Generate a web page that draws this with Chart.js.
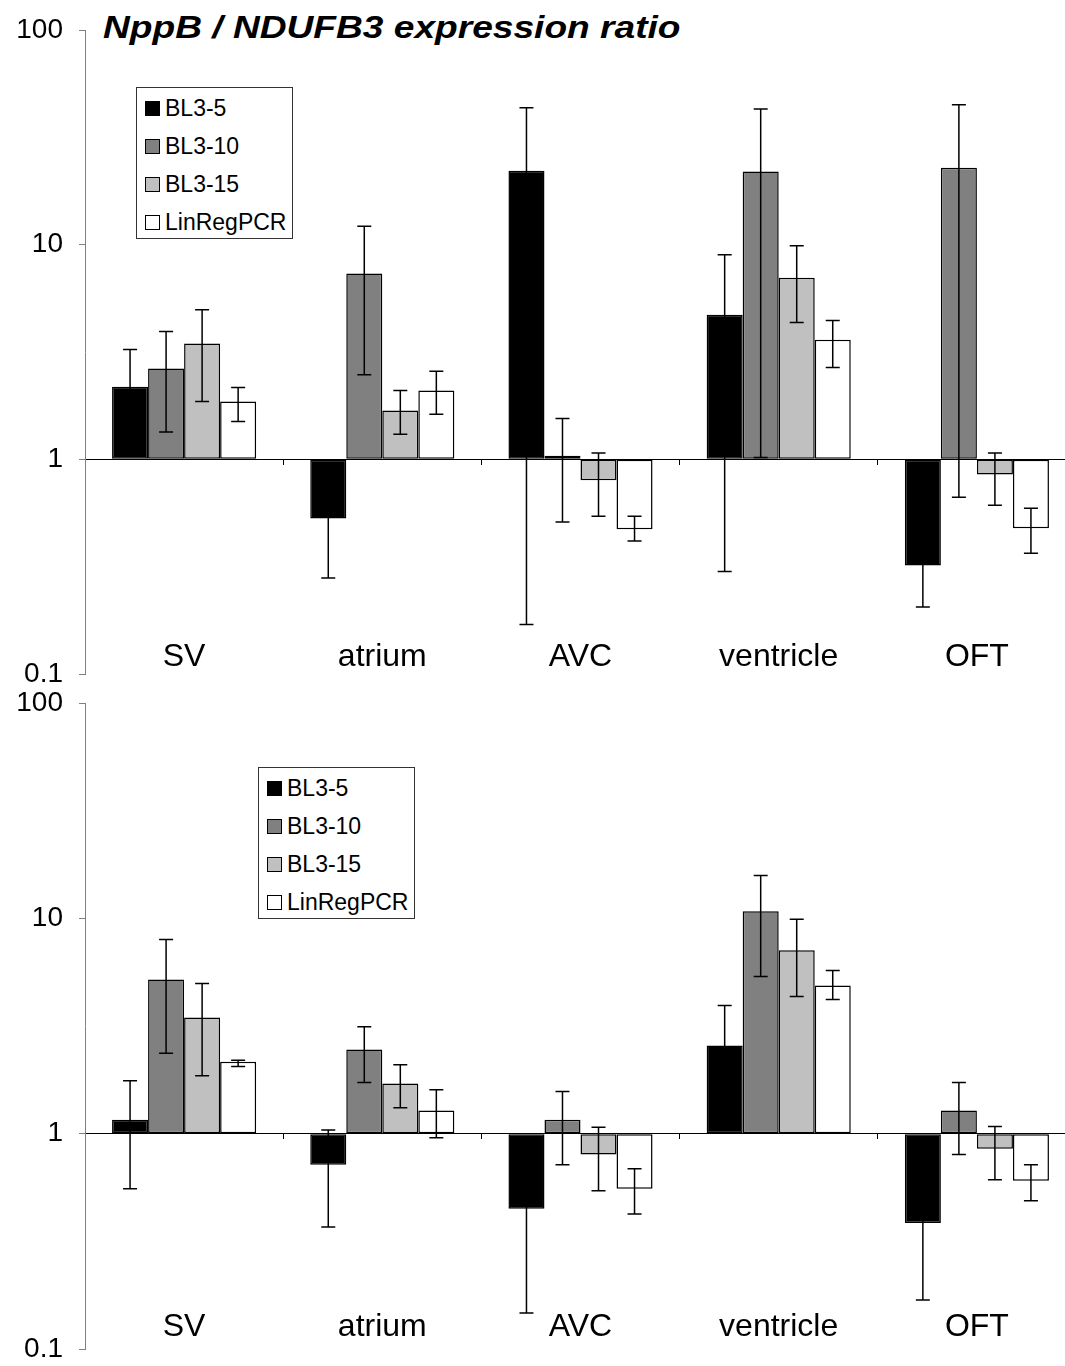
<!DOCTYPE html>
<html>
<head>
<meta charset="utf-8">
<script src="https://cdn.jsdelivr.net/npm/chart.js@4/dist/chart.umd.min.js"></script>
<style>
  body { margin: 0; width: 1065px; height: 1366px; overflow: hidden; background: #fff; position: relative;
         font-family: "Liberation Sans", Arial, sans-serif; }
  canvas { position: absolute; left: 0; }
  #title { position: absolute; left: 103px; top: 11px; font-size: 32px; line-height: 32px; font-weight: bold;
           font-style: italic; white-space: nowrap; transform: scaleX(1.16); transform-origin: left top; }
  .legend { position: absolute; width: 157px; height: 152px; box-sizing: border-box; border: 1px solid #333; background: #fff; }
  .legend .row { position: absolute; left: 8px; height: 24px; display: flex; align-items: center; font-size: 23px; white-space: nowrap; }
  .legend .sw { width: 15px; height: 15px; box-sizing: border-box; border: 1px solid #000; margin-right: 5px; }
</style>
</head>
<body>
<div id="title">NppB / NDUFB3 expression ratio</div>
<canvas id="chartTop" width="1076" height="700" style="top:0"></canvas>
<canvas id="chartBottom" width="1076" height="686" style="top:680px"></canvas>
<div class="legend" id="legendTop" style="left:136px;top:87px"></div>
<div class="legend" id="legendBottom" style="left:258px;top:767px"></div>
<script>
const categories = ['SV', 'atrium', 'AVC', 'ventricle', 'OFT'];
const series = ['BL3-5', 'BL3-10', 'BL3-15', 'LinRegPCR'];
const yTicks = [0.1, 1, 10, 100];

// upper panel: mean, lower end and upper end of the error bar
const topBl5 = [2.18, 0.53, 22.1, 4.72, 0.32];
const topBl5Lo = [1.11, 0.28, 0.17, 0.30, 0.205];
const topBl5Hi = [3.25, 0.79, 43.4, 8.98, 0.43];
const topBl10 = [2.65, 7.33, 1.04, 21.9, 22.8];
const topBl10Lo = [1.34, 2.48, 0.51, 1.02, 0.665];
const topBl10Hi = [3.94, 12.2, 1.55, 42.9, 44.8];
const topBl15 = [3.46, 1.69, 0.80, 7.02, 0.85];
const topBl15Lo = [1.86, 1.31, 0.543, 4.34, 0.611];
const topBl15Hi = [4.98, 2.09, 1.07, 9.89, 1.07];
const topLin = [1.86, 2.09, 0.473, 3.61, 0.478];
const topLinLo = [1.50, 1.62, 0.416, 2.68, 0.365];
const topLinHi = [2.16, 2.57, 0.543, 4.43, 0.592];

// lower panel
const botBl5 = [1.16, 0.718, 0.448, 2.57, 0.385];
const botBl5Lo = [0.555, 0.369, 0.147, 1.20, 0.169];
const botBl5Hi = [1.76, 1.04, 0.75, 3.94, 0.60];
const botBl10 = [5.20, 2.46, 1.16, 10.8, 1.28];
const botBl10Lo = [2.36, 1.73, 0.718, 5.37, 0.80];
const botBl10Hi = [7.98, 3.14, 1.57, 15.8, 1.73];
const botBl15 = [3.46, 1.71, 0.80, 7.1, 0.852];
const botBl15Lo = [1.86, 1.32, 0.543, 4.34, 0.611];
const botBl15Hi = [4.98, 2.09, 1.07, 9.9, 1.08];
const botLin = [2.16, 1.28, 0.555, 4.88, 0.605];
const botLinLo = [2.05, 0.958, 0.424, 4.20, 0.488];
const botLinHi = [2.19, 1.60, 0.688, 5.73, 0.718];

const fills = ['#000000', '#808080', '#c0c0c0', '#ffffff'];
const fontFamily = '"Liberation Sans", Arial, sans-serif';

// error bars: vertical line with caps, drawn on top of the bars
const errorBars = {
  id: 'errorBars',
  afterDatasetsDraw(chart) {
    const ctx = chart.ctx;
    const yScale = chart.scales.y;
    ctx.save();
    ctx.strokeStyle = '#000';
    ctx.lineWidth = 1.5;
    chart.data.datasets.forEach((ds, i) => {
      chart.getDatasetMeta(i).data.forEach((bar, j) => {
        const yHi = yScale.getPixelForValue(ds.errHi[j]);
        const yLo = yScale.getPixelForValue(ds.errLo[j]);
        ctx.beginPath();
        ctx.moveTo(bar.x, yHi); ctx.lineTo(bar.x, yLo);
        ctx.moveTo(bar.x - 7, yHi); ctx.lineTo(bar.x + 7, yHi);
        ctx.moveTo(bar.x - 7, yLo); ctx.lineTo(bar.x + 7, yLo);
        ctx.stroke();
      });
    });
    ctx.restore();
  }
};

function makeChart(id, sets, pad, labelPad) {
  return new Chart(document.getElementById(id), {
    type: 'bar',
    data: {
      labels: categories,
      datasets: series.map((name, i) => ({
        label: name,
        data: sets[i][0],
        errLo: sets[i][1],
        errHi: sets[i][2],
        base: 1,
        backgroundColor: fills[i],
        borderColor: '#000',
        borderWidth: 1.5,
        borderSkipped: false,
        categoryPercentage: 0.727,
        barPercentage: 1
      }))
    },
    options: {
      responsive: false,
      animation: false,
      layout: { padding: { top: pad[0], bottom: pad[1], left: 0, right: 0 } },
      plugins: { legend: { display: false }, tooltip: { enabled: false } },
      scales: {
        x: {
          position: { y: 1 },
          // labels sit near the bottom of the plot, so the big padding must not eat the sides
          afterFit: s => { s.paddingLeft = 0; s.paddingRight = 0; },
          grid: { drawOnChartArea: false, drawTicks: true, tickLength: 5, color: '#000', offset: true },
          border: { display: true, color: '#000', width: 1 },
          ticks: { padding: labelPad, color: '#000', maxRotation: 0, autoSkip: false,
                   font: { family: fontFamily, size: 32 } }
        },
        y: {
          type: 'logarithmic',
          min: 0.1,
          max: 100,
          afterBuildTicks: s => { s.ticks = yTicks.map(v => ({ value: v })); },
          afterFit: s => { s.width = 85; s.paddingTop = 0; s.paddingBottom = 0; },
          grid: { drawOnChartArea: false, drawTicks: true, tickLength: 6, color: '#808080' },
          border: { display: true, color: '#808080', width: 1 },
          ticks: { padding: 16, color: '#000', font: { family: fontFamily, size: 28 },
                   callback: v => String(v) }
        }
      }
    },
    plugins: [errorBars]
  });
}

function makeLegend(divId, chart) {
  const box = document.getElementById(divId);
  chart.data.datasets.forEach((ds, i) => {
    const row = document.createElement('div');
    row.className = 'row';
    row.style.top = (8 + i * 38) + 'px';
    const sw = document.createElement('span');
    sw.className = 'sw';
    sw.style.background = ds.backgroundColor;
    row.appendChild(sw);
    row.appendChild(document.createTextNode(ds.label));
    box.appendChild(row);
  });
}

const topChart = makeChart('chartTop', [
  [topBl5, topBl5Lo, topBl5Hi],
  [topBl10, topBl10Lo, topBl10Hi],
  [topBl15, topBl15Lo, topBl15Hi],
  [topLin, topLinLo, topLinHi]
], [30, 26], 174);

const bottomChart = makeChart('chartBottom', [
  [botBl5, botBl5Lo, botBl5Hi],
  [botBl10, botBl10Lo, botBl10Hi],
  [botBl15, botBl15Lo, botBl15Hi],
  [botLin, botLinLo, botLinHi]
], [23, 17], 169);

makeLegend('legendTop', topChart);
makeLegend('legendBottom', bottomChart);
</script>
</body>
</html>
